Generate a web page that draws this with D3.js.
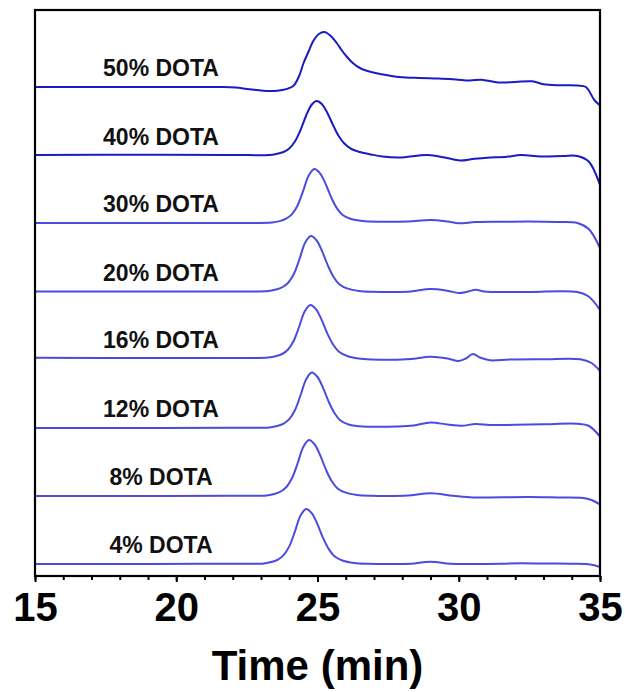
<!DOCTYPE html>
<html>
<head>
<meta charset="utf-8">
<script src="https://cdn.jsdelivr.net/npm/d3@7"></script>
<style>
  html, body { margin: 0; padding: 0; background: #fff; }
  svg { display: block; font-family: "Liberation Sans", Arial, sans-serif; }
</style>
</head>
<body>
<svg id="chart" width="625" height="692"></svg>
<script>
// ---------------- data ----------------
const seriesNames = ["4% DOTA", "8% DOTA", "12% DOTA", "16% DOTA", "20% DOTA", "30% DOTA", "40% DOTA", "50% DOTA"];
// vertical stacking offsets (a.u.)
const seriesOffsets = [2.4, 16, 29.6, 43.4, 56.8, 70.6, 84, 97.8];

// each series: [time (min), intensity (a.u.)]
const dota4 = [[15,0],[18,0],[21,0.05],[22.5,0.05],[23.1,0.11],[23.4,0.44],[23.6,0.88],[23.8,1.76],[24.0,3.52],[24.2,6.49],[24.4,9.68],[24.6,11],[24.8,10.12],[25.0,7.92],[25.2,5.17],[25.4,2.97],[25.6,1.54],[25.9,0.66],[26.3,0.22],[26.8,0.05],[27.5,0],[28.3,0.05],[29.0,0.45],[29.7,0.05],[30.5,0],[31.5,0.05],[32.2,0.15],[33,0.1],[34,0.05],[34.5,0],[34.8,-0.25],[35,-0.6]];
const dota8 = [[15,0],[19,0],[22,0.05],[23.2,0.11],[23.5,0.45],[23.7,0.9],[23.9,1.8],[24.1,3.6],[24.3,6.6],[24.5,9.85],[24.7,11.2],[24.9,10.3],[25.1,8.06],[25.3,5.26],[25.5,3.0],[25.7,1.57],[26.0,0.67],[26.4,0.22],[26.9,0.05],[27.5,0],[28.2,0.1],[29.0,0.55],[29.8,0.05],[30.5,-0.3],[31.5,-0.25],[32.5,-0.2],[33.5,-0.3],[34.4,-0.4],[34.7,-0.8],[35,-1.7]];
const dota12 = [[15,0],[19,0],[22,0.05],[23.3,0.11],[23.6,0.44],[23.8,0.89],[24.0,1.78],[24.2,3.55],[24.4,6.55],[24.6,9.77],[24.8,11.1],[25.0,10.2],[25.2,7.99],[25.4,5.22],[25.6,3.0],[25.8,1.55],[26.1,0.7],[26.5,0.35],[27.0,0.25],[27.8,0.3],[28.4,0.5],[29.0,1.1],[29.6,0.7],[30.1,0.45],[30.6,0.8],[31.1,0.6],[32,0.65],[33,0.75],[34.2,0.85],[34.6,0.45],[35,-1.7]];
const dota16 = [[15,0.25],[19,0.2],[22,0.2],[23.25,0.3],[23.55,0.6],[23.75,1.0],[23.95,1.85],[24.15,3.55],[24.35,6.45],[24.55,9.55],[24.75,10.8],[24.95,9.94],[25.15,7.78],[25.35,5.08],[25.55,2.92],[25.75,1.51],[26.05,0.6],[26.45,0.1],[26.95,-0.1],[27.6,-0.15],[28.3,0],[29.0,0.45],[29.6,0.1],[30.0,-0.4],[30.25,0.1],[30.5,1.0],[30.75,0.3],[31.1,-0.25],[31.8,-0.1],[33,-0.05],[34.3,-0.05],[34.7,-0.8],[35,-2.4]];
const dota20 = [[15,0.1],[19,0.1],[22,0.1],[23.27,0.2],[23.57,0.55],[23.77,1.0],[23.97,1.9],[24.17,3.7],[24.37,6.7],[24.57,9.95],[24.77,11.2],[24.97,10.3],[25.17,8.06],[25.37,5.26],[25.57,3.0],[25.77,1.57],[26.07,0.67],[26.47,0.22],[26.97,0.05],[27.7,0],[28.3,0.1],[29.0,0.6],[29.6,0.25],[30.0,-0.2],[30.3,0.05],[30.6,0.45],[30.9,0.1],[31.2,0],[32.5,0],[34.2,0],[34.6,-0.9],[35,-3.6]];
const dota30 = [[15,0],[19,0],[22,0],[23.39,0.11],[23.69,0.43],[23.89,0.86],[24.09,1.73],[24.29,3.46],[24.49,6.37],[24.69,9.5],[24.89,10.8],[25.09,9.94],[25.29,7.78],[25.49,5.08],[25.69,2.92],[25.89,1.6],[26.19,0.8],[26.6,0.4],[27.2,0.26],[28.2,0.3],[29.0,0.6],[29.6,0.3],[30.0,-0.05],[30.6,0.2],[31.5,0.25],[32.5,0.3],[33.5,0.2],[34.2,0],[34.6,-1.2],[35,-5.0]];
const dota40 = [[15,0.2],[19,0.25],[22,0.2],[23.3,0.2],[23.5,0.35],[23.8,0.8],[24.0,1.5],[24.2,2.9],[24.4,5.2],[24.6,8.1],[24.8,10.3],[24.97,11],[25.15,10.4],[25.35,8.6],[25.55,6.2],[25.75,4.0],[25.95,2.5],[26.2,1.4],[26.5,0.8],[26.9,0.3],[27.3,-0.1],[27.9,-0.3],[28.9,0.2],[29.5,-0.3],[30.05,-0.9],[30.5,-0.6],[31.0,-0.33],[31.7,-0.15],[32.2,0.2],[32.9,-0.1],[33.7,0],[34.2,0],[34.6,-1.1],[35,-5.8]];
const dota50 = [[15,0],[18,0],[20.5,0],[21.6,0],[22.1,-0.1],[22.6,-0.45],[23.3,-0.8],[23.8,-0.55],[24.14,0.2],[24.35,2.2],[24.5,4.7],[24.7,7.3],[24.85,9.2],[25.05,10.6],[25.24,11],[25.45,10.3],[25.68,8.8],[25.85,7.4],[26.03,6.1],[26.25,4.8],[26.5,3.8],[26.9,3.0],[27.33,2.5],[27.9,2.0],[28.6,1.8],[29.3,1.7],[29.9,1.5],[30.4,1.3],[30.8,1.45],[31.4,0.9],[32,1.0],[32.6,1.15],[33.0,0.55],[33.6,0.35],[34.2,0.3],[34.5,0],[34.8,-2.6],[35,-3.7]];

const seriesData = [dota4, dota8, dota12, dota16, dota20, dota30, dota40, dota50];

const majorTicks = [15, 20, 25, 30, 35];
const minorTicks = d3.range(15, 36, 1);
const xTitle = "Time (min)";

// ---------------- layout ----------------
const svg = d3.select("#chart");
const mLeft = 35, mRight = 600, mTop = 10, mBottom = 576;

const x = d3.scaleLinear().domain([15, 35]).range([mLeft, mRight]);
const y = d3.scaleLinear().domain([0, 113.2]).range([mBottom, mTop]);

const colors = ["#4b4bdf", "#4b4bdf", "#4b4bdf", "#4b4bdf", "#4b4bdf", "#4b4bdf", "#1a1ac6", "#1a1ac6"];

const line = d3.line().curve(d3.curveCatmullRom.alpha(0.5));

svg.append("rect").attr("width", 625).attr("height", 692).attr("fill", "#fff");

svg.append("clipPath").attr("id", "clip")
  .append("rect").attr("x", mLeft).attr("y", mTop).attr("width", mRight - mLeft).attr("height", mBottom - mTop);

const g = svg.append("g").attr("clip-path", "url(#clip)");

seriesData.forEach((s, i) => {
  const off = seriesOffsets[i];
  g.append("path")
    .attr("d", line(s.map(d => [x(d[0]), y(d[1] + off)])))
    .attr("fill", "none")
    .attr("stroke", colors[i])
    .attr("stroke-width", 2)
    .attr("stroke-linejoin", "round");
});

// labels
seriesNames.forEach((name, i) => {
  svg.append("text")
    .attr("x", 161)
    .attr("y", y(seriesOffsets[i]) - 11)
    .attr("text-anchor", "middle")
    .attr("font-size", 23)
    .attr("font-weight", "bold")
    .attr("fill", "#111")
    .text(name);
});

// minor ticks
const minorAxis = d3.axisBottom(x).tickValues(minorTicks).tickSize(4).tickFormat("");
const gm = svg.append("g").attr("transform", `translate(0,${mBottom})`).call(minorAxis);
gm.select(".domain").remove();
gm.selectAll("line").attr("stroke", "#000").attr("stroke-width", 2);

// major ticks
const majorAxis = d3.axisBottom(x).tickValues(majorTicks).tickSize(6).tickFormat(d3.format("d"));
const ga = svg.append("g").attr("transform", `translate(0,${mBottom})`).call(majorAxis);
ga.select(".domain").remove();
ga.selectAll("line").attr("stroke", "#000").attr("stroke-width", 2);
ga.selectAll("text")
  .attr("y", 45).attr("dy", 0)
  .attr("font-size", 40)
  .attr("font-weight", "bold")
  .attr("font-family", "'Liberation Sans', Arial, sans-serif")
  .attr("fill", "#000");

// frame
svg.append("rect")
  .attr("x", mLeft).attr("y", mTop)
  .attr("width", mRight - mLeft).attr("height", mBottom - mTop)
  .attr("fill", "none").attr("stroke", "#000").attr("stroke-width", 2.2);

// x title
svg.append("text")
  .attr("x", (mLeft + mRight) / 2)
  .attr("y", 680)
  .attr("text-anchor", "middle")
  .attr("font-size", 42)
  .attr("font-weight", "bold")
  .attr("fill", "#000")
  .text(xTitle);
</script>
</body>
</html>
